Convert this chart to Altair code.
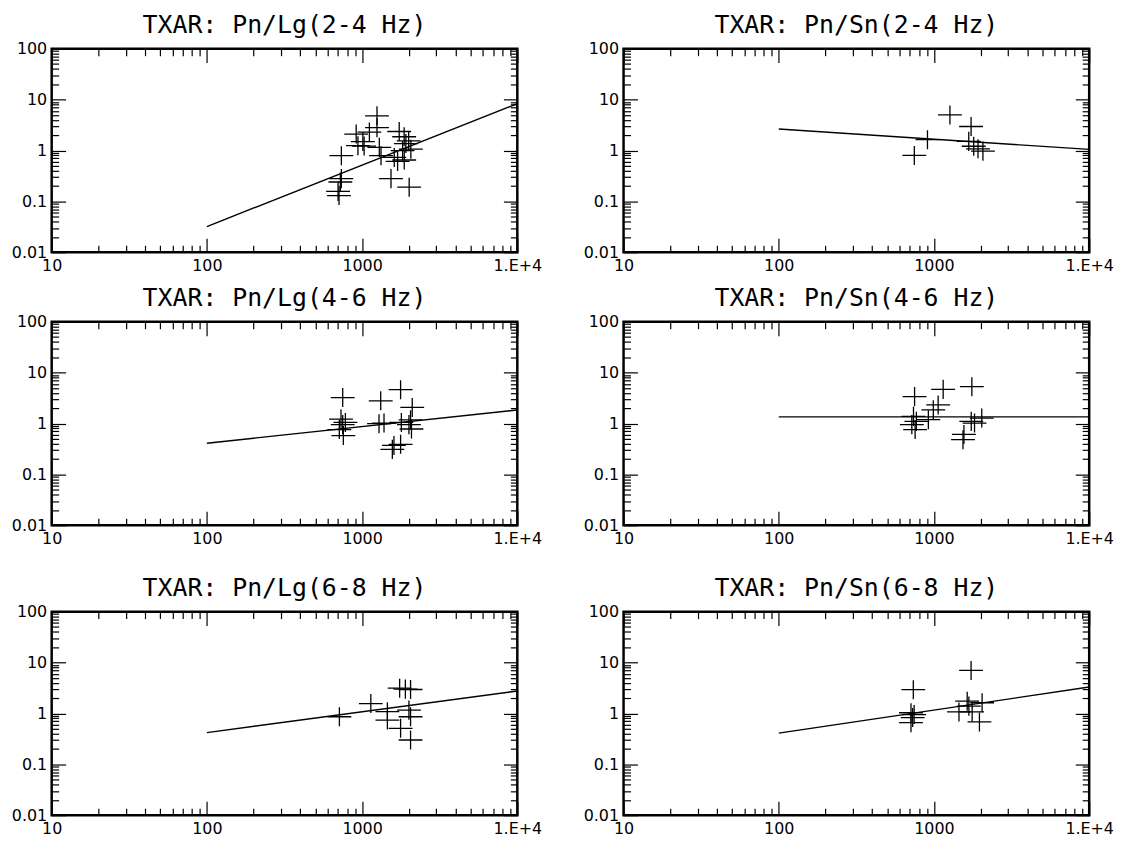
import altair as alt
import pandas as pd

TITLE_FONT = "DejaVu Sans Mono"
LABEL_FONT = "DejaVu Sans"

# ---- data ----
titles = [
    "TXAR: Pn/Lg(2-4 Hz)", "TXAR: Pn/Sn(2-4 Hz)",
    "TXAR: Pn/Lg(4-6 Hz)", "TXAR: Pn/Sn(4-6 Hz)",
    "TXAR: Pn/Lg(6-8 Hz)", "TXAR: Pn/Sn(6-8 Hz)",
]

lg24_dist = [1247, 1247, 1114, 916, 1011, 940, 735, 1291, 1324, 1734, 1866, 1914,
             2061, 1824, 1611, 1693, 1868, 1535, 2010, 735, 724, 700, 710, 1030, 1995]
lg24_ratio = [4.8, 2.8, 2.3, 2.1, 1.5, 1.24, 0.79, 1.15, 0.79, 2.36, 1.86, 1.37,
              1.06, 0.99, 0.73, 0.61, 0.65, 0.28, 0.19, 0.28, 0.24, 0.157, 0.13, 1.22, 1.55]

sn24_dist = [1267, 1734, 908, 747, 1675, 1803, 1922, 2067]
sn24_ratio = [5.0, 2.96, 1.63, 0.80, 1.51, 1.21, 1.08, 0.97]

lg46_dist = [750, 1318, 1770, 2103, 731, 750, 713, 757, 780, 1384, 1285, 1790,
             2052, 2003, 2080, 1604, 1566, 1770]
lg46_ratio = [3.24, 2.79, 4.62, 2.07, 1.22, 0.95, 0.76, 0.58, 1.05, 1.02, 0.99, 1.05,
              1.18, 0.95, 0.78, 0.37, 0.31, 0.39]

sn46_dist = [750, 1146, 1754, 1064, 990, 920, 738, 720, 756, 770, 1738, 2032,
             1825, 1560, 1538]
sn46_ratio = [3.38, 4.69, 5.29, 2.32, 1.86, 1.19, 1.38, 0.95, 0.76, 1.1, 1.10, 1.28,
              1.02, 0.61, 0.48]

lg68_dist = [714, 1138, 1745, 1900, 2052, 1455, 1455, 2003, 2052, 1770, 2052]
lg68_ratio = [0.86, 1.56, 3.13, 3.0, 2.95, 1.08, 0.74, 1.16, 0.86, 0.51, 0.30]

sn68_dist = [736, 1734, 711, 729, 711, 745, 1637, 1678, 1449, 2042, 1762, 1963]
sn68_ratio = [2.93, 7.0, 1.03, 0.83, 0.66, 0.95, 1.74, 1.39, 1.07, 1.62, 1.07, 0.68]

fit_dist = [100, 10000]
lg24_fit = [0.032, 8.3]
sn24_fit = [2.65, 1.05]
lg46_fit = [0.41, 1.84]
sn46_fit = [1.35, 1.35]
lg68_fit = [0.42, 2.75]
sn68_fit = [0.41, 3.3]

x_major = [10, 100, 1000, 10000]
x_minor = [m * 10 ** k for k in (1, 2, 3) for m in range(2, 10)]
y_major = [0.01, 0.1, 1, 10, 100]
y_minor = [round(m * 10.0 ** k, 6) for k in (-2, -1, 0, 1) for m in range(2, 10)]

CROSS = "M-1,0H1M0,-0.8V0.8"

X_EXPR = "datum.value >= 10000 ? '1.E+4' : format(datum.value, '~g')"
Y_EXPR = "format(datum.value, '~g')"


def axis(orient, values, size, expr=None):
    kw = dict(orient=orient, values=values, tickSize=size, offset=-size,
              domain=False, grid=False, ticks=True, tickColor="black",
              tickWidth=1.2, title=None)
    if expr is not None:
        kw.update(labels=True, labelExpr=expr, labelFont=LABEL_FONT, labelFontSize=16,
                  labelColor="black", labelPadding=5, labelFlush=False,
                  labelOverlap=False)
    else:
        kw.update(labels=False)
    return alt.Axis(**kw)


def panel(title, dist, ratio, fit):
    pts = pd.DataFrame({"d": dist, "r": ratio})
    fl = pd.DataFrame({"d": fit_dist, "r": fit})
    xs = alt.Scale(type="log", domain=[10, 10000], nice=False)
    ys = alt.Scale(type="log", domain=[0.01, 100], nice=False)

    def enc(ch, xa, ya):
        return ch.encode(
            x=alt.X("d:Q", scale=xs, axis=xa),
            y=alt.Y("r:Q", scale=ys, axis=ya),
        )

    line = enc(alt.Chart(fl).mark_line(color="black", strokeWidth=1.4),
               axis("bottom", x_major, 14, X_EXPR), axis("left", y_major, 14, Y_EXPR))
    minor = enc(alt.Chart(fl).mark_line(opacity=0),
                axis("bottom", x_minor, 7), axis("left", y_minor, 7))
    topmaj = enc(alt.Chart(fl).mark_line(opacity=0),
                 axis("top", x_major, 14), axis("right", y_major, 14))
    topmin = enc(alt.Chart(fl).mark_line(opacity=0),
                 axis("top", x_minor, 7), axis("right", y_minor, 7))
    points = enc(alt.Chart(pts).mark_point(shape=CROSS, size=576, filled=False,
                                           color="black", strokeWidth=1.3, opacity=1),
                 None, None)
    return alt.layer(line, minor, topmaj, topmin, points).resolve_axis(
        x="independent", y="independent"
    ).properties(
        width=469, height=205,
        title=alt.TitleParams(title, fontSize=25, font=TITLE_FONT, fontWeight="normal",
                              color="black", offset=3, anchor="middle"),
    )


p = [
    panel(titles[0], lg24_dist, lg24_ratio, lg24_fit),
    panel(titles[1], sn24_dist, sn24_ratio, sn24_fit),
    panel(titles[2], lg46_dist, lg46_ratio, lg46_fit),
    panel(titles[3], sn46_dist, sn46_ratio, sn46_fit),
    panel(titles[4], lg68_dist, lg68_ratio, lg68_fit),
    panel(titles[5], sn68_dist, sn68_ratio, sn68_fit),
]

top_rows = alt.vconcat(
    alt.hconcat(p[0], p[1], spacing=39),
    alt.hconcat(p[2], p[3], spacing=39),
    spacing=9,
)
chart = alt.vconcat(
    top_rows,
    alt.hconcat(p[4], p[5], spacing=39),
    spacing=26,
).properties(
    padding={"left": 2, "top": 0, "right": 0, "bottom": 0},
    background="white",
).configure_view(stroke="black", strokeWidth=2.5)

chart.save("out.html", embed_options={"renderer": "svg", "actions": False})
